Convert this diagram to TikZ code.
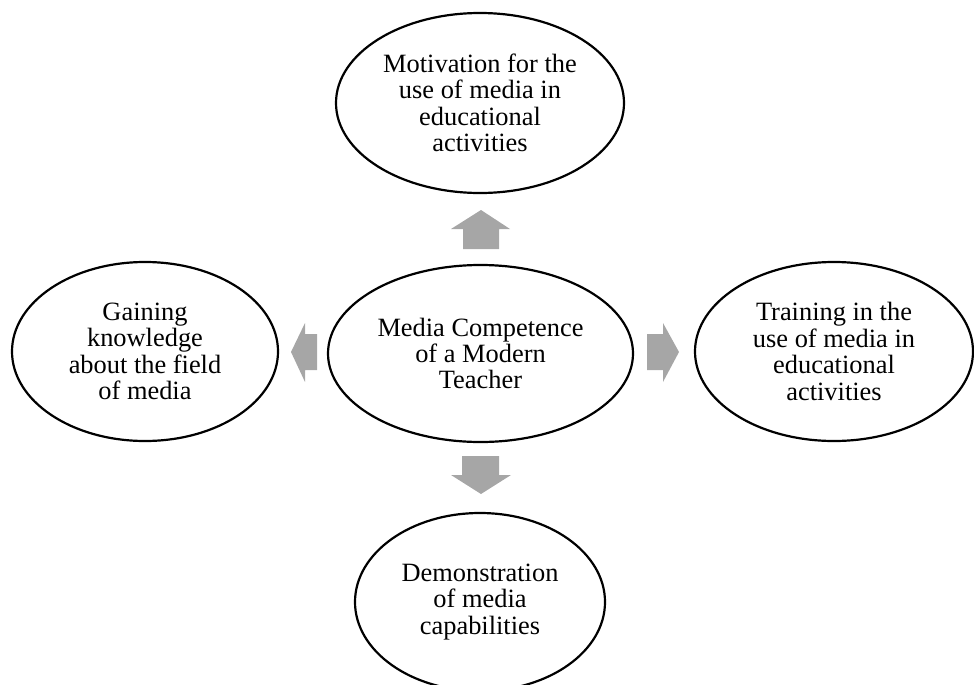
\documentclass[tikz,border=0pt]{standalone}
\usepackage{fontspec}
\setmainfont{Liberation Serif}
\usetikzlibrary{shapes.geometric}
\definecolor{arrowgray}{HTML}{A6A6A6}
\tikzset{
  bubble/.style={ellipse, draw=black, line width=2.2pt, inner sep=0pt, align=center,
    font=\fontsize{26.4}{26.4}\selectfont},
  blockarrow/.style={fill=arrowgray, draw=none}
}
\begin{document}
\begin{tikzpicture}[x=1pt,y=-1pt]
\useasboundingbox (0,0) rectangle (974,685);
% ellipses
\node[bubble, minimum width=305pt, minimum height=177pt] (center) at (480.5,353.5)
  {Media Competence\\of a Modern\\Teacher};
\node[bubble, minimum width=288pt, minimum height=180pt] (top) at (480,103)
  {Motivation for the\\use of media in\\educational\\activities};
\node[bubble, minimum width=266pt, minimum height=179pt] (left) at (145,351.5)
  {Gaining\\knowledge\\about the field\\of media};
\node[bubble, minimum width=278pt, minimum height=179pt] (right) at (834,351.5)
  {Training in the\\use of media in\\educational\\activities};
\node[bubble, minimum width=250pt, minimum height=178pt] (bottom) at (480,602)
  {Demonstration\\of media\\capabilities};
% block arrows
\fill[blockarrow] (463,249) -- (463,229) -- (451,229) -- (481,210) -- (510,229) -- (499,229) -- (499,249) -- cycle;
\fill[blockarrow] (462,456) -- (462,475) -- (451,475) -- (481,494) -- (511,475) -- (499,475) -- (499,456) -- cycle;
\fill[blockarrow] (317,334) -- (305,334) -- (305,323) -- (291,352) -- (305,382) -- (305,370) -- (317,370) -- cycle;
\fill[blockarrow] (647,334) -- (663,334) -- (663,323) -- (679,352) -- (663,382) -- (663,370) -- (647,370) -- cycle;
\end{tikzpicture}
\end{document}
